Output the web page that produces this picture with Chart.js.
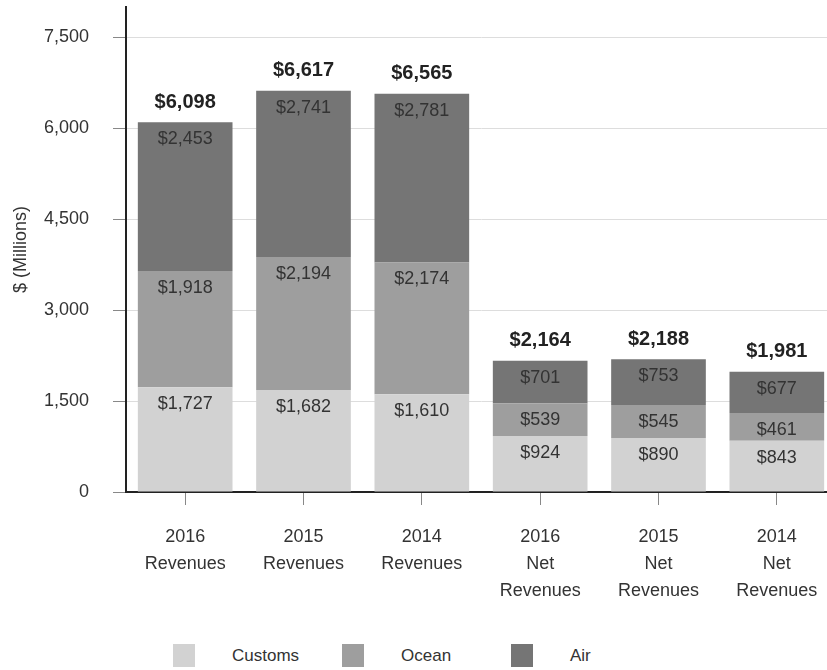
<!DOCTYPE html>
<html>
<head>
<meta charset="utf-8">
<script src="https://cdn.jsdelivr.net/npm/chart.js@4"></script>
<style>
  html, body { margin: 0; padding: 0; background: #fff; overflow: hidden; }
  body { width: 827px; height: 670px; position: relative; font-family: "Liberation Sans", Arial, sans-serif; }
  #chart { position: absolute; left: 0; top: -28px; }
  #legend { position: absolute; left: 173px; top: 644px; display: flex; }
  .item { width: 169px; display: flex; align-items: center; font-size: 17px; color: #333; }
  .box { width: 22px; height: 23px; margin-right: 37px; }
</style>
</head>
<body>
<canvas id="chart" width="840" height="648"></canvas>
<div id="legend"></div>
<script>
// Categories and values ($ millions)
const categories = [
    ['2016', 'Revenues'], ['2015', 'Revenues'], ['2014', 'Revenues'],
    ['2016', 'Net', 'Revenues'], ['2015', 'Net', 'Revenues'], ['2014', 'Net', 'Revenues']
];
const customs = [1727, 1682, 1610, 924, 890, 843];
const ocean = [1918, 2194, 2174, 539, 545, 461];
const air = [2453, 2741, 2781, 701, 753, 677];
const yTicks = [0, 1500, 3000, 4500, 6000, 7500];

const seriesNames = ['Customs', 'Ocean', 'Air'];
const seriesColors = ['#d2d2d2', '#9e9e9e', '#757575'];

const fmt = v => '$' + v.toLocaleString('en-US');

// Draws the value inside each segment and the bold total above each bar
const labelPlugin = {
    id: 'labels',
    afterDatasetsDraw(chart) {
        const ctx = chart.ctx;
        ctx.save();
        ctx.textAlign = 'center';
        ctx.textBaseline = 'middle';
        chart.data.datasets.forEach((ds, i) => {
            const meta = chart.getDatasetMeta(i);
            ctx.font = '18px "Liberation Sans", Arial, sans-serif';
            ctx.fillStyle = '#333';
            meta.data.forEach((el, j) => {
                ctx.fillText(fmt(ds.data[j]), el.x, el.y + 17);
            });
        });
        const top = chart.getDatasetMeta(chart.data.datasets.length - 1);
        ctx.font = 'bold 20px "Liberation Sans", Arial, sans-serif';
        ctx.fillStyle = '#222';
        top.data.forEach((el, j) => {
            const total = customs[j] + ocean[j] + air[j];
            ctx.fillText(fmt(total), el.x, el.y - 20);
        });
        ctx.restore();
    }
};

function createChart() {
    const ctx = document.getElementById('chart').getContext('2d');
    new Chart(ctx, {
        type: 'bar',
        data: {
            labels: categories,
            datasets: [customs, ocean, air].map((d, i) => ({
                label: seriesNames[i],
                data: d,
                backgroundColor: seriesColors[i],
                borderWidth: 0,
                barPercentage: 0.8,
                categoryPercentage: 1
            }))
        },
        options: {
            responsive: false,
            animation: false,
            layout: { padding: { top: 5, right: 4, left: 0, bottom: 0 } },
            plugins: {
                legend: { display: false },
                tooltip: { enabled: false }
            },
            scales: {
                x: {
                    stacked: true,
                    afterFit: s => { s.height = 128; },
                    grid: {
                        offset: false,
                        drawOnChartArea: false,
                        tickLength: 13,
                        tickColor: '#888'
                    },
                    border: { color: '#222', width: 2 },
                    ticks: {
                        padding: 19,
                        color: '#333',
                        font: { size: 18, family: '"Liberation Sans", Arial, sans-serif', lineHeight: 1.5 },
                        maxRotation: 0
                    }
                },
                y: {
                    stacked: true,
                    min: 0,
                    max: 8000,
                    afterFit: s => { s.width = 126; },
                    afterBuildTicks: s => { s.ticks = yTicks.map(v => ({ value: v })); },
                    grid: {
                        color: '#dddddd',
                        tickLength: 13,
                        tickColor: '#888'
                    },
                    border: { color: '#222', width: 2 },
                    ticks: {
                        padding: 24,
                        color: '#333',
                        font: { size: 18, family: '"Liberation Sans", Arial, sans-serif' },
                        callback: v => v.toLocaleString('en-US')
                    },
                    title: {
                        display: true,
                        text: '$ (Millions)',
                        color: '#333',
                        padding: { top: 10, bottom: 0 },
                        font: { size: 18, family: '"Liberation Sans", Arial, sans-serif' }
                    }
                }
            }
        },
        plugins: [labelPlugin]
    });
}

function buildLegend() {
    const legend = document.getElementById('legend');
    seriesNames.forEach((name, i) => {
        const item = document.createElement('div');
        item.className = 'item';
        item.innerHTML = `<span class="box" style="background:${seriesColors[i]}"></span><span>${name}</span>`;
        legend.appendChild(item);
    });
}

window.onload = function () {
    createChart();
    buildLegend();
};
</script>
</body>
</html>
